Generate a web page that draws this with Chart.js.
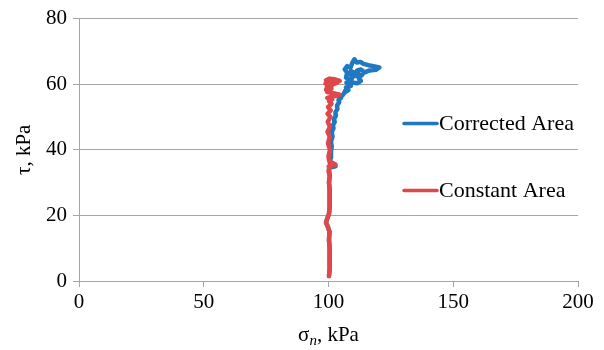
<!DOCTYPE html>
<html>
<head>
<meta charset="utf-8">
<script src="https://cdn.jsdelivr.net/npm/chart.js@4/dist/chart.umd.min.js"></script>
<style>
html,body{margin:0;padding:0;background:#fff;}
#wrap{width:604px;height:350px;}
</style>
</head>
<body>
<div id="wrap"><canvas id="c" width="604" height="350"></canvas></div>
<script>
const xTicks = [0, 50, 100, 150, 200];
const yTicks = [0, 20, 40, 60, 80];
const seriesNames = ["Corrected Area", "Constant Area"];
const xTitleMain = "σ";
const xTitleSub = "n";
const xTitleRest = ", kPa";
const yTitle = "τ, kPa";

const correctedSigma = [100.2, 100.5, 100.3, 100.6, 100.2, 100.4, 99.6, 99.0, 99.4, 100.2, 100.5, 100.3, 100.6, 100.2, 100.5, 100.2, 102.8, 100.6, 100.8, 101.0, 101.3, 101.0, 101.6, 101.3, 102.0, 101.8, 102.5, 102.3, 103.0, 102.8, 103.6, 103.4, 104.3, 104.0, 105.0, 104.6, 105.5, 106.5, 108.0, 107.0, 109.0, 107.2, 109.5, 111.5, 113.0, 112.0, 113.5, 111.0, 109.5, 108.5, 107.0, 107.5, 106.5, 107.5, 108.8, 109.5, 110.4, 111.3, 112.8, 114.0, 116.0, 118.0, 120.4, 119.0, 116.5, 114.5, 113.0, 111.5, 112.0, 110.5, 109.0, 108.5, 110.0, 108.0, 106.5];
const correctedTau = [1.5, 4, 7, 10, 12.5, 15, 16.8, 17.8, 18.8, 20.5, 23, 25.5, 28, 30, 32, 34.5, 35, 35.5, 37.5, 39.5, 41, 42.5, 44, 45.5, 46.5, 47.5, 48.5, 49.5, 50.5, 51.5, 52.5, 53.5, 54.5, 55.2, 55.8, 56.3, 56.5, 57.5, 58.2, 59, 59.5, 60.5, 60.5, 60.3, 61, 62, 62.8, 62.6, 62.2, 61.3, 62, 63.5, 64.5, 65.5, 65, 66.5, 67.6, 66.6, 66.8, 66.2, 65.8, 65.5, 65.1, 64.4, 64.2, 63.6, 64.5, 64.2, 63.3, 63.5, 64, 63, 62.8, 59.5, 57.8];

const constantSigma = [100.2, 100.5, 100.3, 100.6, 100.2, 100.4, 99.6, 99.0, 99.4, 100.2, 100.5, 100.3, 100.6, 100.2, 100.5, 100.0, 100.4, 100.1, 100.5, 102.8, 100.3, 100.0, 100.6, 99.8, 100.5, 99.6, 100.6, 99.7, 100.8, 99.6, 100.9, 99.8, 101.2, 100.2, 101.5, 99.5, 101.8, 103.5, 104.5, 101.5, 99.5, 100.8, 99.0, 101.2, 99.3, 101.0, 99.5, 101.5, 103.0, 104.5, 102.5, 100.5, 99.0, 101.5, 98.8, 100.5, 102.5, 103.8, 102.0, 100.0];
const constantTau = [1.5, 4, 7, 10, 12.5, 15, 16.8, 17.8, 18.8, 20.5, 23, 25.5, 28, 30, 32, 33.5, 34.5, 35, 35, 35.5, 36.5, 38, 40, 42, 44, 45.5, 47, 48.5, 50, 51, 52, 53, 54, 54.8, 55.3, 55.8, 56.3, 56.5, 56.8, 57.3, 57.6, 58, 58.3, 58.7, 59, 59.4, 59.8, 60.2, 60.8, 61.0, 61.5, 61.7, 61.2, 60.6, 60.2, 59.6, 60.3, 60.6, 60.0, 59.0];

const colors = ["#1f78c1", "#e0474a"];

function pts(xs, ys){ return xs.map((x,i)=>({x:x, y:ys[i]})); }

const FONT = "'Liberation Serif', 'Times New Roman', 'DejaVu Serif', serif";

const customDraw = {
  id: 'customDraw',
  afterDraw(chart){
    const ctx = chart.ctx;
    const ca = chart.chartArea;
    ctx.save();
    const legY = [ca.top + 105, ca.top + 172];
    [0, 1].forEach((di, k)=>{
      const ds = chart.data.datasets[di];
      const y = legY[k];
      const x0 = ca.right - 174;
      ctx.strokeStyle = ds.borderColor;
      ctx.lineWidth = 3.5;
      ctx.lineCap = 'round';
      ctx.beginPath(); ctx.moveTo(x0, y); ctx.lineTo(x0 + 33, y); ctx.stroke();
      ctx.fillStyle = '#000';
      ctx.font = "22px " + FONT;
      ctx.textBaseline = 'middle';
      ctx.textAlign = 'left';
      ctx.fillText(ds.label, x0 + 35, y + 1);
    });
    const cx = (ca.left + ca.right) / 2;
    const ty = 341;
    ctx.font = "21px " + FONT;
    const w1 = ctx.measureText(xTitleMain).width;
    ctx.font = "italic 15px " + FONT;
    const w2 = ctx.measureText(xTitleSub).width;
    ctx.font = "21px " + FONT;
    const w3 = ctx.measureText(xTitleRest).width;
    let x = cx - (w1 + w2 + w3) / 2;
    ctx.textBaseline = 'alphabetic';
    ctx.textAlign = 'left';
    ctx.fillStyle = '#000';
    ctx.font = "21px " + FONT;
    ctx.fillText(xTitleMain, x, ty); x += w1;
    ctx.font = "italic 15px " + FONT;
    ctx.fillText(xTitleSub, x, ty + 4); x += w2;
    ctx.font = "21px " + FONT;
    ctx.fillText(xTitleRest, x, ty);
    ctx.restore();
  }
};

function build(){
  new Chart(document.getElementById('c'), {
    type: 'scatter',
    data: {
      datasets: [
        { label: seriesNames[0], data: pts(correctedSigma, correctedTau), showLine: true,
          borderColor: colors[0], backgroundColor: colors[0], borderWidth: 4.5, pointRadius: 0,
          tension: 0, borderJoinStyle: 'round', borderCapStyle: 'round', order: 2 },
        { label: seriesNames[1], data: pts(constantSigma, constantTau), showLine: true,
          borderColor: colors[1], backgroundColor: colors[1], borderWidth: 4.5, pointRadius: 0,
          tension: 0, borderJoinStyle: 'round', borderCapStyle: 'round', order: 1 }
      ]
    },
    options: {
      responsive: false,
      animation: false,
      layout: { padding: { top: 18, right: 26, bottom: 0, left: 0 } },
      plugins: { legend: { display: false }, tooltip: { enabled: false } },
      scales: {
        x: {
          type: 'linear', min: xTicks[0], max: xTicks[xTicks.length-1],
          afterBuildTicks: (s)=>{ s.ticks = xTicks.map(v=>({value:v})); },
          afterFit: (s)=>{ s.height = 69; },
          ticks: { color: '#000', font: { family: FONT, size: 21 }, padding: 3, maxRotation: 0 },
          grid: { drawOnChartArea: false, color: '#a6a6a6', tickLength: 6 },
          border: { color: '#a6a6a6', width: 1 }
        },
        y: {
          type: 'linear', min: yTicks[0], max: yTicks[yTicks.length-1],
          afterBuildTicks: (s)=>{ s.ticks = yTicks.map(v=>({value:v})); },
          afterFit: (s)=>{ s.width = 79; },
          ticks: { color: '#000', font: { family: FONT, size: 21 }, padding: 6 },
          grid: { color: '#a6a6a6', tickLength: 6 },
          border: { color: '#a6a6a6', width: 1 },
          title: { display: true, text: yTitle, color: '#000', font: { family: FONT, size: 21 }, padding: { top: 12, bottom: 0 } }
        }
      }
    },
    plugins: [customDraw]
  });
}

if (document.fonts && document.fonts.load) {
  Promise.all([
    document.fonts.load("21px 'Liberation Serif'"),
    document.fonts.load("italic 15px 'Liberation Serif'")
  ]).then(build, build);
} else { build(); }
</script>
</body>
</html>
